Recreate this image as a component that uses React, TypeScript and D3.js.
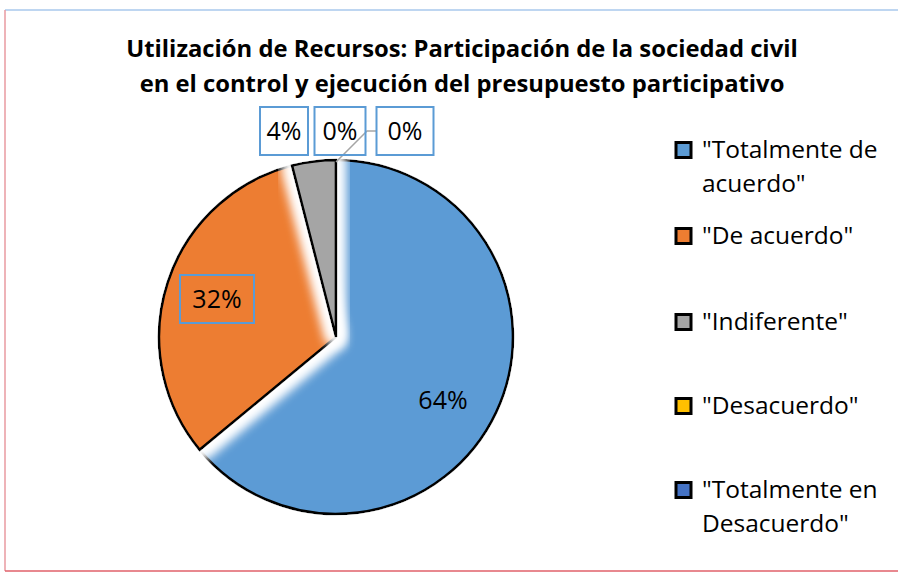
import React from "react";
import * as d3 from "d3";

const categories = [
  '"Totalmente de acuerdo"',
  '"De acuerdo"',
  '"Indiferente"',
  '"Desacuerdo"',
  '"Totalmente en Desacuerdo"',
];
const values = [64, 32, 4, 0, 0];
const colors = ["#5B9BD5", "#ED7D31", "#A5A5A5", "#FFC000", "#4472C4"];
const legendLines = [
  ['"Totalmente de', 'acuerdo"'],
  ['"De acuerdo"'],
  ['"Indiferente"'],
  ['"Desacuerdo"'],
  ['"Totalmente en', 'Desacuerdo"'],
];
const titleLines = [
  "Utilización de Recursos: Participación de la sociedad civil",
  "en el control y ejecución del presupuesto participativo",
];

const W = 898;
const H = 573;
const FONT = "'Open Sans', Lato, sans-serif";

export default function App() {
  const cx = 336;
  const cy = 337;
  const r = 177;
  const total = d3.sum(values);
  const pie = d3.pie<number>().sort(null).value((d) => d);
  const arcs = pie(values);
  const arc = d3.arc<d3.PieArcDatum<number>>().innerRadius(0).outerRadius(r);

  const labelPos: { x: number; y: number; w: number }[] = [
    { x: 443, y: 400, w: 0 },
    { x: 217, y: 299, w: 74 },
    { x: 284, y: 131, w: 48 },
    { x: 340, y: 131, w: 51 },
    { x: 405, y: 131, w: 57 },
  ];

  const legendY = [150, 236, 322, 406, 490];

  return (
    <svg
      width={W}
      height={H}
      style={{ position: "absolute", left: 0, top: 0, background: "#fff" }}
      fontFamily={FONT}
    >
      <defs>
        <filter id="glow" x="-30%" y="-30%" width="160%" height="160%">
          <feMorphology in="SourceAlpha" operator="dilate" radius="6" result="dil" />
          <feGaussianBlur in="dil" stdDeviation="6" result="blur" />
          <feFlood floodColor="#ffffff" result="white" />
          <feComposite in="white" in2="blur" operator="in" result="glowc" />
          <feMerge>
            <feMergeNode in="glowc" />
            <feMergeNode in="glowc" />
            <feMergeNode in="SourceGraphic" />
          </feMerge>
        </filter>
      </defs>
      <rect x={0} y={0} width={W} height={H} fill="#fff" />
      <line x1={5} y1={10} x2={W} y2={10} stroke="#A8C8EC" strokeWidth={1.5} />
      <line x1={5} y1={10} x2={5} y2={571} stroke="#E89AA0" strokeWidth={1.5} />
      <line x1={5} y1={571} x2={W} y2={571} stroke="#E0606A" strokeWidth={1.5} />

      {titleLines.map((t, i) => (
        <text
          key={i}
          x={462}
          y={57 + i * 35}
          textAnchor="middle"
          fontSize={23.8}
          fontWeight="bold"
          fill="#000"
        >
          {t}
        </text>
      ))}

      <g transform={`translate(${cx},${cy})`}>
        {arcs.map((a, i) => (
          <path
            key={i}
            d={arc(a) || ""}
            fill={a.endAngle - a.startAngle > 0 ? colors[i] : "none"}
            stroke="#000"
            strokeWidth={2.6}
            strokeLinejoin="miter"
            filter="url(#glow)"
          />
        ))}
      </g>

      <polyline
        points={`${cx},${cy - r + 2} ${labelPos[4].x - 38},${labelPos[4].y} ${labelPos[4].x - 29},${labelPos[4].y}`}
        fill="none"
        stroke="#A5A5A5"
        strokeWidth={1.5}
      />

      {arcs.map((a, i) => {
        const p = labelPos[i];
        const txt = `${Math.round((a.data / total) * 100)}%`;
        return (
          <g key={i}>
            {p.w > 0 && (
              <rect
                x={p.x - p.w / 2}
                y={p.y - 24}
                width={p.w}
                height={48}
                fill="none"
                stroke="#5B9BD5"
                strokeWidth={2}
              />
            )}
            <text x={p.x} y={p.y + 9} textAnchor="middle" fontSize={25} fill="#000">
              {txt}
            </text>
          </g>
        );
      })}

      {categories.map((c, i) => (
        <g key={c}>
          <rect
            x={676}
            y={legendY[i] - 7.5}
            width={15}
            height={15}
            fill={colors[i]}
            stroke="#000"
            strokeWidth={3}
          />
          {legendLines[i].map((l, j) => (
            <text key={j} x={702} y={legendY[i] + 8 + j * 34} fontSize={24.5} fill="#000">
              {l}
            </text>
          ))}
        </g>
      ))}
    </svg>
  );
}
